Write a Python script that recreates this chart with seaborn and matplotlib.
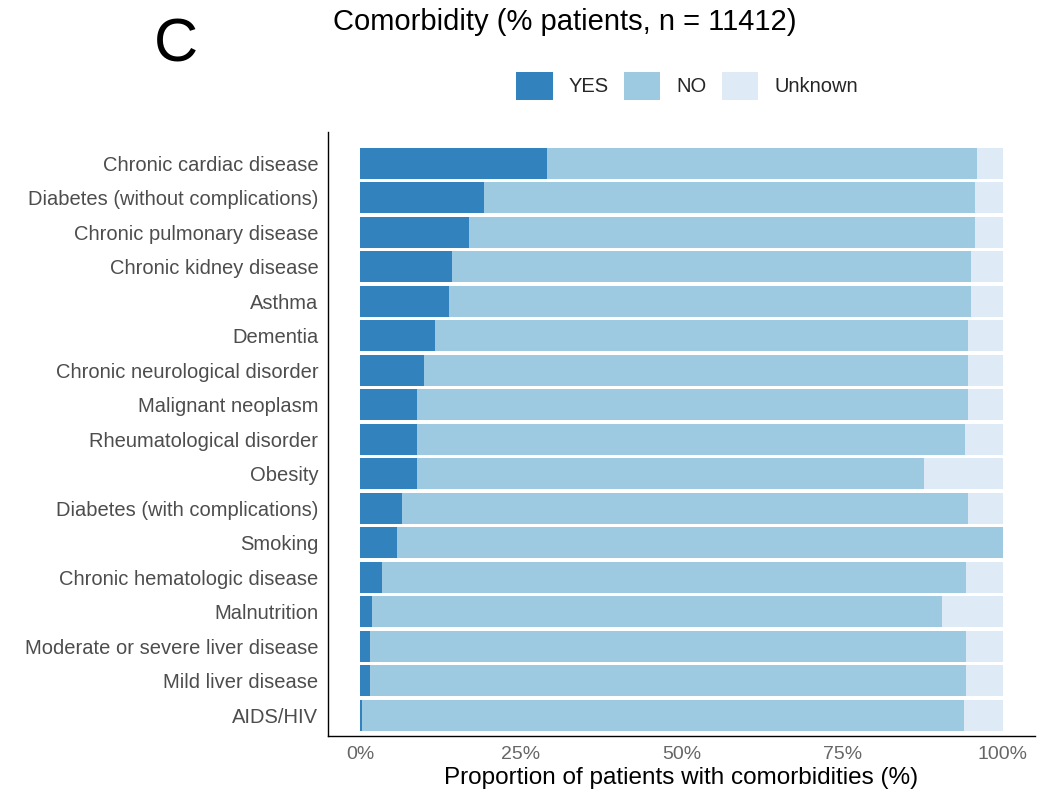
import matplotlib
matplotlib.use("Agg")
import matplotlib.pyplot as plt
from matplotlib.patches import Patch
import seaborn as sns
import pandas as pd
import numpy as np

categories = [
    "Chronic cardiac disease", "Diabetes (without complications)", "Chronic pulmonary disease",
    "Chronic kidney disease", "Asthma", "Dementia", "Chronic neurological disorder",
    "Malignant neoplasm", "Rheumatological disorder", "Obesity", "Diabetes (with complications)",
    "Smoking", "Chronic hematologic disease", "Malnutrition", "Moderate or severe liver disease",
    "Mild liver disease", "AIDS/HIV",
]
yes_pct = [29.0, 19.2, 17.0, 14.3, 13.8, 11.7, 9.9, 8.8, 8.8, 8.8, 6.5, 5.7, 3.4, 1.8, 1.5, 1.5, 0.3]
no_pct = [67.0, 76.5, 78.6, 80.8, 81.3, 82.9, 84.6, 85.7, 85.3, 79.0, 88.1, 94.3, 90.8, 88.7, 92.7, 92.7, 93.6]
unknown_pct = [round(100 - y - n, 1) for y, n in zip(yes_pct, no_pct)]

legend_labels = ["YES", "NO", "Unknown"]
colors = {"YES": "#3182bd", "NO": "#9ecae1", "Unknown": "#deebf7"}
title = "Comorbidity (% patients, n = 11412)"
xlabel = "Proportion of patients with comorbidities (%)"
xticks = [0, 25, 50, 75, 100]
xticklabels = ["0%", "25%", "50%", "75%", "100%"]

df = pd.DataFrame({"cat": categories, "yes": yes_pct, "no": no_pct, "unk": unknown_pct})
df["total"] = df["yes"] + df["no"] + df["unk"]
df["yes_no"] = df["yes"] + df["no"]

sns.set_theme(style="white")
plt.rcParams["font.family"] = ["Liberation Sans", "DejaVu Sans"]

fig = plt.figure(figsize=(10.49, 7.96), dpi=100)
ax = fig.add_axes([328 / 1049, 1 - 736 / 796, (1035 - 328) / 1049, (736 - 132) / 796])

w = 0.9
sns.barplot(data=df, y="cat", x="total", color=colors["Unknown"], orient="h", width=w,
            saturation=1, ax=ax, order=categories)
sns.barplot(data=df, y="cat", x="yes_no", color=colors["NO"], orient="h", width=w,
            saturation=1, ax=ax, order=categories)
sns.barplot(data=df, y="cat", x="yes", color=colors["YES"], orient="h", width=w,
            saturation=1, ax=ax, order=categories)
for p in ax.patches:
    p.set_linewidth(0)

ax.set_xlim(-5, 105)
ax.set_ylim(len(categories) - 0.4, -0.9)
ax.set_xticks(xticks)
ax.set_xticklabels(xticklabels)
ax.set_ylabel("")
ax.set_xlabel(xlabel, fontsize=17.5, color="black", labelpad=3)
ax.xaxis.set_label_coords((673 - 328) / (1035 - 328), -0.035, transform=None) if False else None
ax.tick_params(axis="both", which="both", length=4, width=0.8, color="#333333",
               labelsize=14.5, labelcolor="#4d4d4d", direction="out", pad=3)
ax.tick_params(axis="x", labelsize=14, labelcolor="#666666")
for s in ["top", "right"]:
    ax.spines[s].set_visible(False)
for s in ["left", "bottom"]:
    ax.spines[s].set_color("black")
    ax.spines[s].set_linewidth(1.0)

fig.text(565 / 1049, 1 - 22 / 796, title, ha="center", va="center", fontsize=21, color="black")
fig.text(176 / 1049, 1 - 46 / 796, "C", ha="center", va="center", fontsize=44, color="black")

handles = [Patch(facecolor=colors[k], edgecolor="none", label=k) for k in legend_labels]
fig.legend(handles=handles, ncol=3, loc="center", bbox_to_anchor=(687 / 1049, 1 - 86 / 796),
           frameon=False, fontsize=14.5, handlelength=1.8, handleheight=1.8,
           columnspacing=0.75, handletextpad=0.8)

fig.savefig("out.png", dpi=100)
